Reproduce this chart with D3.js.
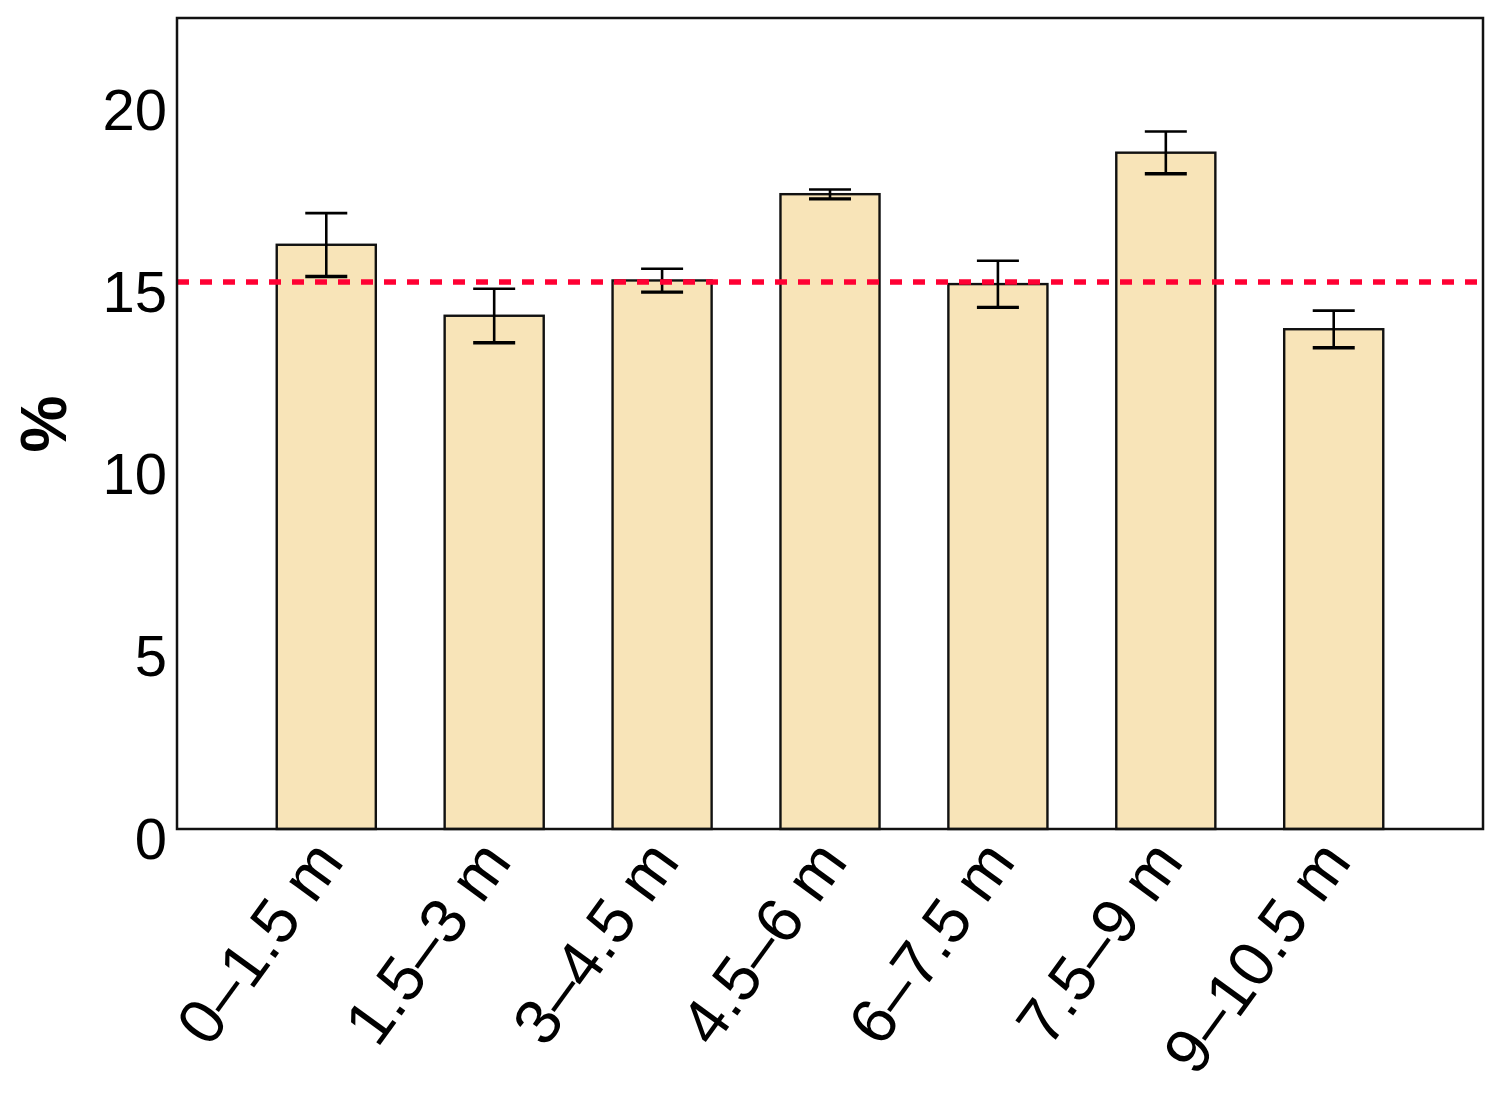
<!DOCTYPE html>
<html><head><meta charset="utf-8">
<script src="https://cdn.jsdelivr.net/npm/d3@7"></script>
<style>body{margin:0;background:#fff}</style>
</head><body>
<svg id="c" width="1507" height="1105"></svg>
<script>
const categories = ["0–1.5 m","1.5–3 m","3–4.5 m","4.5–6 m","6–7.5 m","7.5–9 m","9–10.5 m"];
const values = [16.05, 14.1, 15.07, 17.44, 14.97, 18.58, 13.73];
const errors = [0.87, 0.74, 0.32, 0.13, 0.64, 0.58, 0.51];
const refValue = 15.03;
const yTicks = [0, 5, 10, 15, 20];

const svg = d3.select("#c");
const L = 177, R = 1483, T = 18, B = 829;
const x = d3.scaleBand().domain(categories).range([L, R]).paddingInner(0.41).paddingOuter(0.594);
const y = d3.scaleLinear().domain([0, 22.28]).range([B, T]);
const font = "Liberation Sans, Arial, Helvetica, sans-serif";

// bars
svg.append("g").selectAll("rect").data(values).join("rect")
  .attr("x", (d,i) => x(categories[i]))
  .attr("y", d => y(d))
  .attr("width", x.bandwidth())
  .attr("height", d => y(0) - y(d))
  .attr("fill", "#F8E4B8")
  .attr("stroke", "#111")
  .attr("stroke-width", 2.4);

// error bars
const eg = svg.append("g").attr("stroke", "#000").attr("stroke-width", 2.6);
values.forEach((v, i) => {
  const cx = x(categories[i]) + x.bandwidth()/2;
  const cap = 21;
  eg.append("line").attr("x1", cx).attr("x2", cx).attr("y1", y(v + errors[i])).attr("y2", y(v - errors[i]));
  eg.append("line").attr("x1", cx - cap).attr("x2", cx + cap).attr("y1", y(v + errors[i])).attr("y2", y(v + errors[i]));
  eg.append("line").attr("x1", cx - cap).attr("x2", cx + cap).attr("y1", y(v - errors[i])).attr("y2", y(v - errors[i])).attr("stroke-width", 3.4);
});

// reference line
svg.append("line")
  .attr("x1", L).attr("x2", R).attr("y1", y(refValue)).attr("y2", y(refValue))
  .attr("stroke", "#FF0033").attr("stroke-width", 5.5).attr("stroke-dasharray", "12,11");

// frame
svg.append("rect").attr("x", L).attr("y", T).attr("width", R - L).attr("height", B - T)
  .attr("fill", "none").attr("stroke", "#111").attr("stroke-width", 2.5);

// y axis
const yAxis = d3.axisLeft(y).tickValues(yTicks).tickSize(0).tickPadding(10).tickFormat(d3.format("d"));
const ya = svg.append("g").attr("transform", `translate(${L},0)`).call(yAxis);
ya.select(".domain").remove();
ya.selectAll("text").attr("font-family", font).attr("font-size", 58).attr("fill", "#000").attr("dy", "0.5em");

// x axis
const xAxis = d3.axisBottom(x).tickSize(0).tickPadding(0);
const xa = svg.append("g").attr("transform", `translate(0,${B})`).call(xAxis);
xa.select(".domain").remove();
xa.selectAll("text")
  .attr("font-family", font).attr("font-size", 64).attr("fill", "#000")
  .attr("text-anchor", "end").attr("dy", 0).attr("y", 0)
  .attr("transform", "translate(19,33) rotate(-54)");

// y label
svg.append("text").attr("transform", "translate(66,424) rotate(-90)")
  .attr("text-anchor", "middle").attr("font-family", font).attr("font-weight", "bold")
  .attr("font-size", 64).text("%");
</script>
</body></html>
